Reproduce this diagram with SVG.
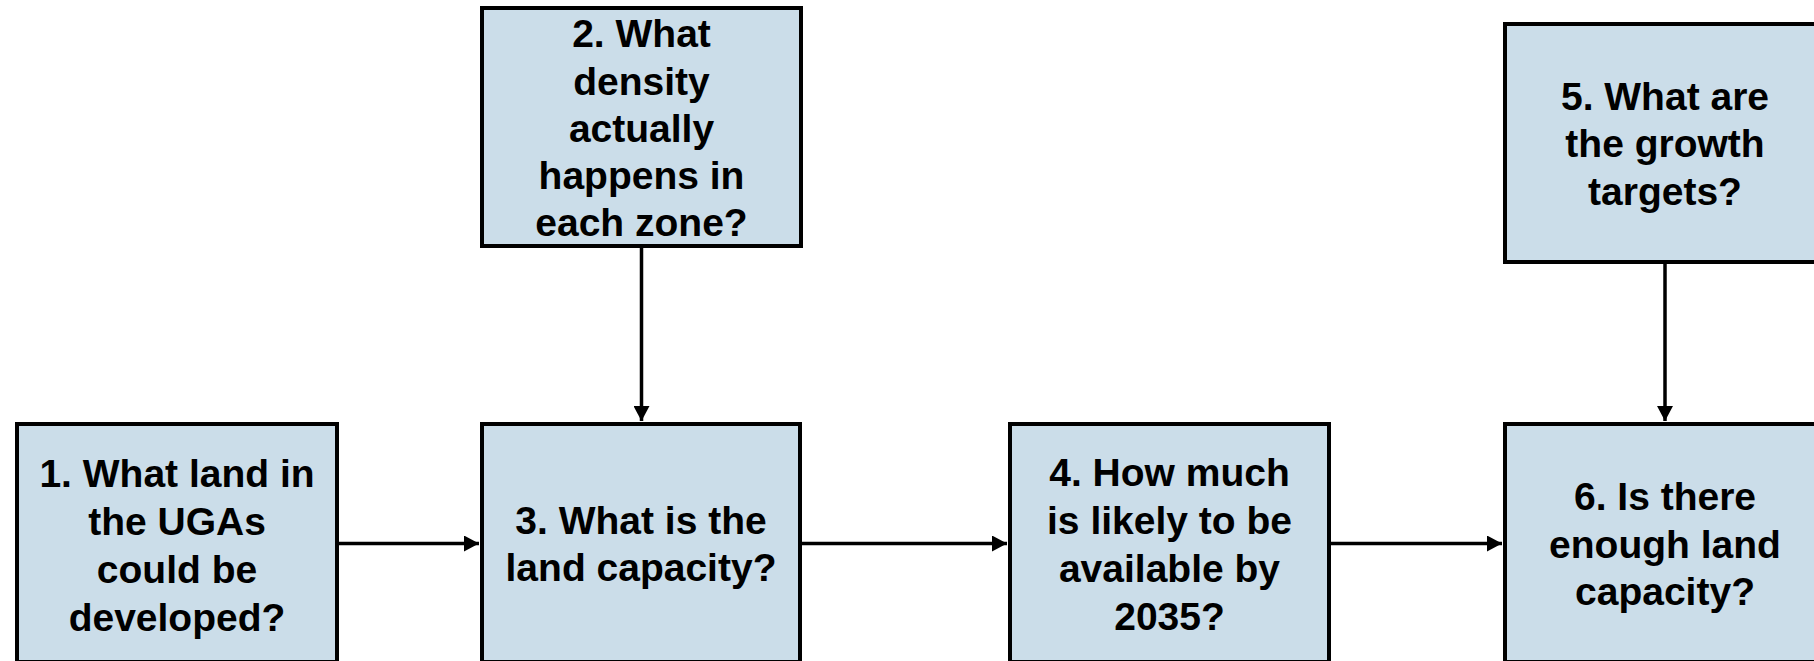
<svg xmlns="http://www.w3.org/2000/svg" width="1814" height="661" viewBox="0 0 1814 661">
<style>
.box{fill:#cbdde9;stroke:#000;stroke-width:4}
.lbl{font-family:"Liberation Sans",Arial,sans-serif;font-weight:bold;font-size:39px;fill:#000;text-anchor:middle}
.conn{stroke:#000;stroke-width:3.5;fill:none}
</style>
<defs>
<marker id="ah" markerUnits="userSpaceOnUse" markerWidth="16" markerHeight="16" viewBox="0 0 16 16" refX="15" refY="8" orient="auto">
<path d="M0,0 L15,8 L0,16 Z" fill="#000"/>
</marker>
</defs>
<rect width="1814" height="661" fill="#fff"/>
<g id="connectors">
<line class="conn" x1="339" y1="543.5" x2="479" y2="543.5" marker-end="url(#ah)"/>
<line class="conn" x1="802" y1="543.5" x2="1007" y2="543.5" marker-end="url(#ah)"/>
<line class="conn" x1="1331" y1="543.5" x2="1502" y2="543.5" marker-end="url(#ah)"/>
<line class="conn" x1="641.5" y1="248" x2="641.5" y2="421" marker-end="url(#ah)"/>
<line class="conn" x1="1665" y1="264" x2="1665" y2="421" marker-end="url(#ah)"/>
</g>
<g id="node1">
<rect class="box" x="17" y="424" width="320" height="238"/>
<text class="lbl"><tspan x="177" y="487">1. What land in</tspan><tspan x="177" y="535">the UGAs</tspan><tspan x="177" y="583">could be</tspan><tspan x="177" y="631">developed?</tspan></text>
</g>
<g id="node2">
<rect class="box" x="482" y="8" width="319" height="238"/>
<text class="lbl"><tspan x="641.5" y="47">2. What</tspan><tspan x="641.5" y="94.5">density</tspan><tspan x="641.5" y="141.5">actually</tspan><tspan x="641.5" y="189">happens in</tspan><tspan x="641.5" y="236">each zone?</tspan></text>
</g>
<g id="node3">
<rect class="box" x="482" y="424" width="318" height="238"/>
<text class="lbl"><tspan x="641" y="533.5">3. What is the</tspan><tspan x="641" y="581">land capacity?</tspan></text>
</g>
<g id="node4">
<rect class="box" x="1010" y="424" width="319" height="238"/>
<text class="lbl"><tspan x="1169.5" y="486">4. How much</tspan><tspan x="1169.5" y="534">is likely to be</tspan><tspan x="1169.5" y="582">available by</tspan><tspan x="1169.5" y="630">2035?</tspan></text>
</g>
<g id="node5">
<rect class="box" x="1505" y="24" width="320" height="238"/>
<text class="lbl"><tspan x="1665" y="109.5">5. What are</tspan><tspan x="1665" y="157">the growth</tspan><tspan x="1665" y="204.5">targets?</tspan></text>
</g>
<g id="node6">
<rect class="box" x="1505" y="424" width="320" height="238"/>
<text class="lbl"><tspan x="1665" y="510">6. Is there</tspan><tspan x="1665" y="557.5">enough land</tspan><tspan x="1665" y="605">capacity?</tspan></text>
</g>
</svg>
